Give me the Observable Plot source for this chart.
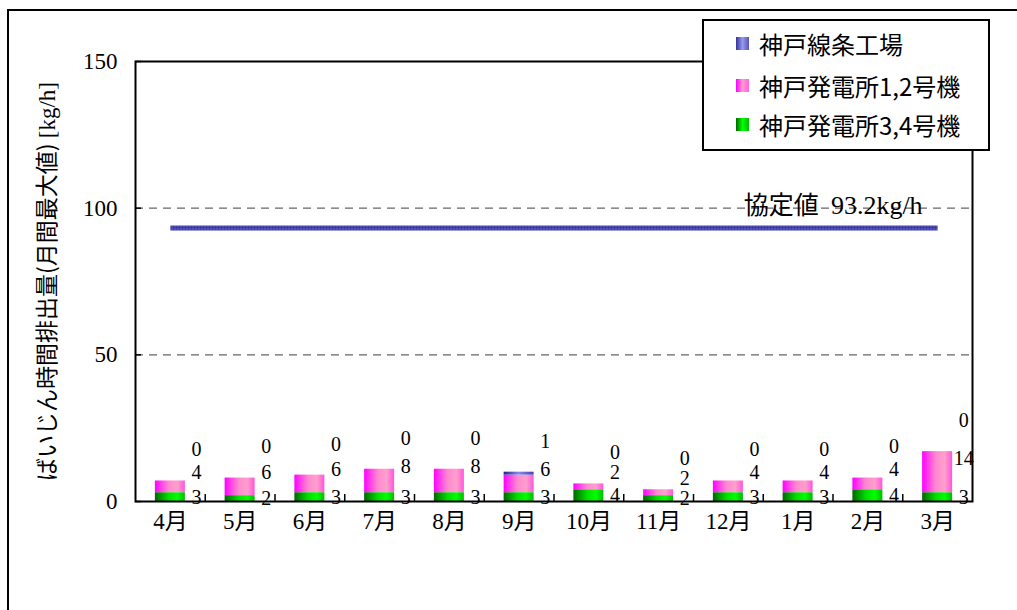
<!DOCTYPE html>
<html><head><meta charset="utf-8">
<script src="https://cdn.jsdelivr.net/npm/d3@7"></script>
<script src="https://cdn.jsdelivr.net/npm/@observablehq/plot@0.6"></script>
<style>
body{margin:0;background:#fff;}
#wrap{position:relative;width:1017px;height:610px;overflow:hidden;background:#fff;}
#outer{position:absolute;left:7px;top:9px;width:1100px;height:700px;border:2px solid #000;}
#chart{position:absolute;left:0;top:0;}
#legend{position:absolute;left:702px;top:19px;width:288px;height:132px;border:2px solid #000;background:#fff;box-sizing:border-box;font-family:"Noto Sans CJK JP",sans-serif;font-size:24px;color:#000;}
.item{position:absolute;left:32px;height:32px;display:flex;align-items:center;white-space:nowrap;}
.sw{width:13px;height:13px;margin-right:10px;flex:none;}
</style></head>
<body><div id="wrap"><div id="outer"></div><div id="chart"></div><div id="legend"></div></div>
<script>
const months = ["4月","5月","6月","7月","8月","9月","10月","11月","12月","1月","2月","3月"];
const kobe34 = [3,2,3,3,3,3,4,2,3,3,4,3];      // 神戸発電所3,4号機
const kobe12 = [4,6,6,8,8,6,2,2,4,4,4,14];     // 神戸発電所1,2号機
const wireMill = [0,0,0,0,0,1,0,0,0,0,0,0];    // 神戸線条工場
const seriesNames = ["神戸線条工場","神戸発電所1,2号機","神戸発電所3,4号機"];
const agreementValue = 93.2;
const agreementLabel = "協定値";
const yTicks = [0,50,100,150];
const yLabel = "ばいじん時間排出量(月間最大値)";
const yUnit = "[kg/h]";

// stacked rows (bottom: 3,4号機, then 1,2号機, then 線条工場)
const rows = [];
months.forEach((m,i)=>{
  let base = 0;
  [[seriesNames[2],kobe34[i]],[seriesNames[1],kobe12[i]],[seriesNames[0],wireMill[i]]].forEach(([s,v])=>{
    rows.push({month:m, series:s, value:v, y1:base, y2:base+v});
    base += v;
  });
});
const fills = ["url(#gBlue)","url(#gPink)","url(#gGreen)"];
const serif = "'Liberation Serif','Noto Sans CJK JP',serif";
const sans = "'Noto Sans CJK JP',sans-serif";

const chart = Plot.plot({
  width:1017, height:610,
  marginLeft:135, marginRight:45, marginTop:61, marginBottom:109,
  style:{fontFamily:serif, fontSize:"20px", background:"transparent", color:"#000", overflow:"visible"},
  x:{domain:months, paddingInner:0.57, paddingOuter:0.285, round:false, axis:null, label:null},
  y:{domain:[0,150], axis:null, label:null},
  color:{domain:seriesNames, range:fills},
  marks:[
    Plot.ruleY([50,100], {stroke:"#666", strokeDasharray:"8,6", strokeWidth:1.3}),
    Plot.line(months, {x:d=>d, y:()=>agreementValue, stroke:"url(#pBlue)", strokeWidth:5, strokeLinecap:"butt"}),
    Plot.barY(rows, {x:"month", y1:"y1", y2:"y2", fill:"series"}),
    Plot.text(rows.filter(d=>d.series===seriesNames[2]), {x:"month", y:d=>(d.y1+d.y2)/2, text:d=>String(d.value), dx:26, fontSize:20, fill:"#000"}),
    Plot.text(rows.filter(d=>d.series===seriesNames[1]), {x:"month", y:d=>(d.y1+d.y2)/2, text:d=>String(d.value), dx:26, dy:-14, fontSize:20, fill:"#000"}),
    Plot.text(rows.filter(d=>d.series===seriesNames[0]), {x:"month", y:"y2", text:d=>String(d.value), dx:26, dy:-31, fontSize:20, fill:"#000"}),
    Plot.axisY(yTicks, {tickSize:0, tickPadding:18, fontSize:23, fontFamily:serif}),
    Plot.axisX({tickSize:0, tickPadding:11, fontSize:23, fontFamily:serif}),
    Plot.tickY(yTicks, {insetRight:831, stroke:"#000", strokeWidth:1.5}),
    Plot.tickX(months.slice(0,-1), {x:d=>d, dx:34.875, insetTop:433, stroke:"#000", strokeWidth:1.5}),
    Plot.frame({stroke:"#000", strokeWidth:2}),
    Plot.text([yLabel + " " + yUnit], {frameAnchor:"left", rotate:-90, textAnchor:"middle", dx:-88, fontSize:23, fontFamily:sans, fill:"#000"}),
    Plot.text([agreementLabel], {x:()=>"2月", y:()=>100, dx:-49, dy:-2, textAnchor:"end", fontSize:25, fontFamily:sans, fill:"#000"}),
    Plot.text([agreementValue + "kg/h"], {x:()=>"2月", y:()=>100, dx:-37, dy:-2, textAnchor:"start", fontSize:26, fontFamily:serif, fill:"#000"})
  ]
});

// gradients & pattern
const ns = "http://www.w3.org/2000/svg";
const defs = document.createElementNS(ns,"defs");
function grad(id, stops){
  const g = document.createElementNS(ns,"linearGradient");
  g.setAttribute("id",id); g.setAttribute("x1","0"); g.setAttribute("x2","1"); g.setAttribute("y1","0"); g.setAttribute("y2","0");
  stops.forEach(([o,c])=>{const s=document.createElementNS(ns,"stop"); s.setAttribute("offset",o); s.setAttribute("stop-color",c); g.appendChild(s);});
  defs.appendChild(g);
}
grad("gPink",[["0","#ff00ff"],["0.45","#ff88d0"],["0.75","#ffa0cc"],["1","#ff55dd"]]);
grad("gGreen",[["0","#006600"],["0.45","#00dd00"],["0.75","#00ff00"],["1","#00bb00"]]);
grad("gBlue",[["0","#222288"],["0.5","#8888ee"],["1","#4444aa"]]);
const pat = document.createElementNS(ns,"pattern");
pat.setAttribute("id","pBlue"); pat.setAttribute("patternUnits","userSpaceOnUse"); pat.setAttribute("width","3"); pat.setAttribute("height","3");
pat.innerHTML = '<rect width="3" height="3" fill="#3a3aa8"/><rect width="1" height="1" fill="#9a9ae6"/>';
defs.appendChild(pat);
chart.insertBefore(defs, chart.firstChild);

// mixed-font y label
chart.querySelectorAll("text").forEach(t=>{
  if (t.textContent === yLabel + " " + yUnit) {
    t.textContent = "";
    const a = document.createElementNS(ns,"tspan"); a.textContent = yLabel + " "; a.setAttribute("font-family", sans);
    const b = document.createElementNS(ns,"tspan"); b.textContent = yUnit; b.setAttribute("font-family", serif);
    t.appendChild(a); t.appendChild(b);
  }
});
document.getElementById("chart").appendChild(chart);

// legend
const legend = document.getElementById("legend");
const legendFills = ["linear-gradient(to right,#333399,#9999ee,#5555bb)","linear-gradient(to right,#ff00ff,#ff99cc,#ff66dd)","linear-gradient(to right,#006600,#00ff00,#00bb00)"];
const legendTops = [6, 48, 87];
seriesNames.forEach((s,i)=>{
  const it = document.createElement("div"); it.className="item"; it.style.top = legendTops[i]+"px";
  const sw = document.createElement("div"); sw.className="sw"; sw.style.background = legendFills[i];
  const tx = document.createElement("span"); tx.textContent = s;
  it.appendChild(sw); it.appendChild(tx); legend.appendChild(it);
});
</script>
</body></html>
